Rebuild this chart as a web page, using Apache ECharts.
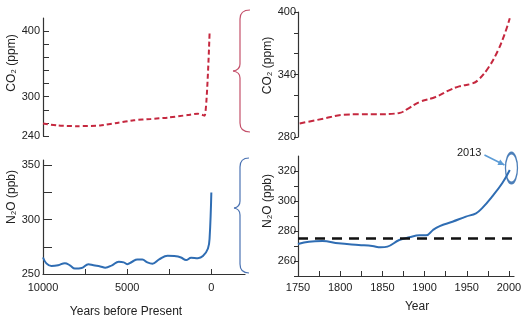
<!DOCTYPE html>
<html>
<head>
<meta charset="utf-8">
<script src="https://cdn.jsdelivr.net/npm/echarts@6/dist/echarts.min.js"></script>
<style>
  html, body { margin: 0; padding: 0; background: #fff; }
  #main { width: 525px; height: 321px; }
</style>
</head>
<body>
<div id="main"></div>
<script>
// Holocene (years before present)
var co2HoloYears = [10000, 9100, 8000, 6600, 5600, 4600, 3600, 2600, 1400, 800, 400, 100];
var co2HoloPpm   = [259, 256, 255, 256, 260, 264, 266, 268, 272, 274, 271, 400];

var n2oHoloYears = [10000, 9800, 9500, 9100, 8700, 8400, 8100, 7700, 7300, 7000, 6600, 6300, 5900, 5500, 5200, 5000,
                    4700, 4400, 4100, 3800, 3500, 3100, 2600, 2200, 1800, 1500, 1200, 800, 500, 200, 100, 0];
var n2oHoloPpb   = [265.2, 259.8, 257.3, 258, 260, 258, 255, 255.5, 259, 258, 257, 255.8, 258, 261.3, 260.7, 259,
                    261.3, 263.4, 263.4, 260.7, 259.5, 263.4, 266.8, 266.5, 265.2, 262.8, 265, 264.6, 266.5, 273.5, 284, 325];

// Industrial era (calendar year)
var co2IndYears = [1752, 1780, 1804, 1823, 1843, 1870, 1880, 1894, 1913, 1929, 1941, 1956, 1964, 1976, 1987, 1995, 2001];
var co2IndPpm   = [293, 297.6, 301.4, 301.8, 301.8, 303, 307, 313.6, 318.4, 324.8, 328.6, 331.2, 335, 347, 363, 379, 394];

var n2oIndYears = [1750, 1763, 1779, 1798, 1822, 1838, 1848, 1856, 1870, 1882, 1894, 1902, 1910, 1918, 1933, 1949,
                   1961, 1968, 1980, 1992, 2001];
var n2oIndPpb   = [271.3, 272.9, 273.3, 271.8, 270.7, 270, 269.1, 269.6, 274, 275.8, 277.1, 277.1, 280.7, 283.3, 286.2, 289.6,
                   291.8, 295.1, 302.9, 311.8, 320.7];

var n2oPreindustrial = 275;
var markYear = 2003, markPpb = 322, markLabel = '2013';

// tick labels
var holoTicks = [10000, 7500, 5000, 2500, 0];
var holoLabels = [10000, 5000, 0];
var co2HoloTicks = [240, 260, 280, 300, 320, 340, 360, 380, 400];
var co2HoloLabels = [240, 300, 400];
var n2oHoloTicks = [250, 275, 300, 325, 350];
var n2oHoloLabels = [250, 300, 350];
var indTicks = [1750, 1775, 1800, 1825, 1850, 1875, 1900, 1925, 1950, 1975, 2000];
var indLabels = [1750, 1800, 1850, 1900, 1950, 2000];
var co2IndLabels = [280, 340, 400];
var n2oIndTicks = [250, 260, 270, 280, 290, 300, 310, 320];
var n2oIndLabels = [260, 280, 300, 320];

function pairs(xs, ys) {
  return xs.map(function (x, i) { return [x, ys[i]]; });
}

// curly brace: stem at x, from y1 to y2, pointing left to tipX at ym
function brace(x, y1, y2, ym, tipX, hookX, color) {
  var st = { fill: 'none', stroke: color, lineWidth: 1.2 };
  var r = 9;
  return [
    { type: 'bezierCurve', shape: { x1: hookX, y1: y1, cpx1: x, cpy1: y1, x2: x, y2: y1 + r }, style: st },
    { type: 'line', shape: { x1: x, y1: y1 + r, x2: x, y2: ym - 7 }, style: st },
    { type: 'bezierCurve', shape: { x1: x, y1: ym - 7, cpx1: x, cpy1: ym - 1, x2: tipX, y2: ym }, style: st },
    { type: 'bezierCurve', shape: { x1: tipX, y1: ym, cpx1: x, cpy1: ym + 1, x2: x, y2: ym + 7 }, style: st },
    { type: 'line', shape: { x1: x, y1: ym + 7, x2: x, y2: y2 - r }, style: st },
    { type: 'bezierCurve', shape: { x1: x, y1: y2 - r, cpx1: x, cpy1: y2, x2: hookX, y2: y2 }, style: st }
  ];
}

var FONT = '"Liberation Sans Narrow", "Liberation Sans", sans-serif';
var RED = '#c5283f';
var BLUE = '#2f6db3';
var axisLine = { show: true, onZero: false, lineStyle: { color: '#333', width: 1.2 } };
var plain = function (v) { return String(v); };
var lbl = { color: '#222', fontSize: 11, fontFamily: FONT, formatter: plain };
var nameStyle = { color: '#222', fontSize: 12, fontFamily: FONT };

var chart = echarts.init(document.getElementById('main'));

var option = {
  animation: false,
  backgroundColor: '#fff',
  grid: [
    { left: 43, top: 18, width: 202, height: 118 },
    { left: 43, top: 160, width: 202, height: 114 },
    { left: 298, top: 12, width: 216, height: 125 },
    { left: 298, top: 156, width: 216, height: 120 }
  ],
  xAxis: [
    { gridIndex: 0, type: 'value', inverse: true, min: -2000, max: 10000, show: false },
    { gridIndex: 1, type: 'value', inverse: true, min: -2000, max: 10000,
      name: 'Years before Present', nameLocation: 'middle', nameGap: 32,
      nameTextStyle: Object.assign({ padding: [0, 36, 0, 0] }, nameStyle),
      axisLine: axisLine, splitLine: { show: false },
      axisTick: { inside: true, length: 5, customValues: holoTicks, lineStyle: { color: '#333' } },
      axisLabel: Object.assign({ customValues: holoLabels, margin: 8 }, lbl) },
    { gridIndex: 2, type: 'value', min: 1750, max: 2006, show: false },
    { gridIndex: 3, type: 'value', min: 1750, max: 2006,
      name: 'Year', nameLocation: 'middle', nameGap: 25,
      nameTextStyle: Object.assign({ padding: [0, 0, 0, 22] }, nameStyle),
      axisLine: axisLine, splitLine: { show: false },
      axisTick: { inside: true, length: 5, customValues: indTicks, lineStyle: { color: '#333' } },
      axisLabel: Object.assign({ customValues: indLabels, margin: 6 }, lbl) }
  ],
  yAxis: [
    { gridIndex: 0, type: 'value', min: 240, max: 420,
      name: 'CO\u2082 (ppm)', nameLocation: 'middle', nameGap: 20,
      nameTextStyle: Object.assign({ padding: [0, 0, 0, 28] }, nameStyle),
      axisLine: axisLine, splitLine: { show: false },
      axisTick: { inside: true, length: 6, customValues: co2HoloTicks, lineStyle: { color: '#333' } },
      axisLabel: Object.assign({ customValues: co2HoloLabels, margin: 3 }, lbl) },
    { gridIndex: 1, type: 'value', min: 250, max: 355,
      name: 'N\u2082O (ppb)', nameLocation: 'middle', nameGap: 20,
      nameTextStyle: Object.assign({ padding: [0, 0, 0, 40] }, nameStyle),
      axisLine: axisLine, splitLine: { show: false },
      axisTick: { inside: true, length: 9, customValues: n2oHoloTicks, lineStyle: { color: '#333' } },
      axisLabel: Object.assign({ customValues: n2oHoloLabels, margin: 3 }, lbl) },
    { gridIndex: 2, type: 'value', min: 280, max: 400, interval: 20,
      name: 'CO\u2082 (ppm)', nameLocation: 'middle', nameGap: 15,
      nameTextStyle: Object.assign({ padding: [0, 0, 0, 18] }, nameStyle),
      axisLine: axisLine, splitLine: { show: false },
      axisTick: { length: 4, lineStyle: { color: '#333' } },
      axisLabel: Object.assign({ customValues: co2IndLabels, margin: 2 }, lbl) },
    { gridIndex: 3, type: 'value', min: 250, max: 330,
      name: 'N\u2082O (ppb)', nameLocation: 'middle', nameGap: 15,
      nameTextStyle: Object.assign({ padding: [0, 0, 0, 30] }, nameStyle),
      axisLine: axisLine, splitLine: { show: false },
      axisTick: { length: 4, customValues: n2oIndTicks, lineStyle: { color: '#333' } },
      axisLabel: Object.assign({ customValues: n2oIndLabels, margin: 2 }, lbl) }
  ],
  series: [
    { name: 'CO2 Holocene', type: 'line', xAxisIndex: 0, yAxisIndex: 0, data: pairs(co2HoloYears, co2HoloPpm),
      smooth: 0.2, showSymbol: false, lineStyle: { color: RED, width: 2, type: [5, 3] } },
    { name: 'N2O Holocene', type: 'line', xAxisIndex: 1, yAxisIndex: 1, data: pairs(n2oHoloYears, n2oHoloPpb),
      smooth: 0.4, showSymbol: false, lineStyle: { color: BLUE, width: 2 } },
    { name: 'CO2 industrial', type: 'line', xAxisIndex: 2, yAxisIndex: 2, data: pairs(co2IndYears, co2IndPpm),
      smooth: 0.4, showSymbol: false, lineStyle: { color: RED, width: 2, type: [6, 3] } },
    { name: 'N2O industrial', type: 'line', xAxisIndex: 3, yAxisIndex: 3, data: pairs(n2oIndYears, n2oIndPpb),
      smooth: 0.4, showSymbol: false, lineStyle: { color: BLUE, width: 2 },
      markLine: { silent: true, symbol: 'none', label: { show: false },
        lineStyle: { color: '#111', width: 2.5, type: [10, 7] },
        data: [{ yAxis: n2oPreindustrial }] } },
    { name: '2013', type: 'scatter', xAxisIndex: 3, yAxisIndex: 3, data: [[markYear, markPpb]],
      symbol: 'circle', symbolSize: [12, 30], silent: true,
      itemStyle: { color: 'rgba(0,0,0,0)', borderColor: '#1f5fa8', borderWidth: 2 } }
  ]
};

chart.setOption(option);

// braces linking the Holocene panels to the industrial-era panels
var deco = brace(240, 10, 132, 71, 233, 250, '#c4506a')
  .concat(brace(240, 158, 273, 208, 234, 249, '#4a72b2'));

// "2013" callout with arrow pointing at the circled end of the N2O curve
var c = chart.convertToPixel({ gridIndex: 3 }, [markYear, markPpb]);
var tip = [c[0] - 7, c[1] - 3];
var tail = [c[0] - 27, c[1] - 13];
var ang = Math.atan2(tip[1] - tail[1], tip[0] - tail[0]);
var h1 = [tip[0] - 7 * Math.cos(ang - 0.45), tip[1] - 7 * Math.sin(ang - 0.45)];
var h2 = [tip[0] - 7 * Math.cos(ang + 0.45), tip[1] - 7 * Math.sin(ang + 0.45)];
deco.push(
  { type: 'line', shape: { x1: tail[0], y1: tail[1], x2: tip[0], y2: tip[1] },
    style: { stroke: '#5b9bd5', lineWidth: 1.6 } },
  { type: 'polygon', shape: { points: [tip, h1, h2] }, style: { fill: '#5b9bd5' } },
  { type: 'text', x: tail[0] - 3, y: tail[1] - 2,
    style: { text: markLabel, align: 'right', verticalAlign: 'middle', fill: '#222', fontSize: 11, fontFamily: FONT } }
);
chart.setOption({ graphic: deco });
</script>
</body>
</html>
